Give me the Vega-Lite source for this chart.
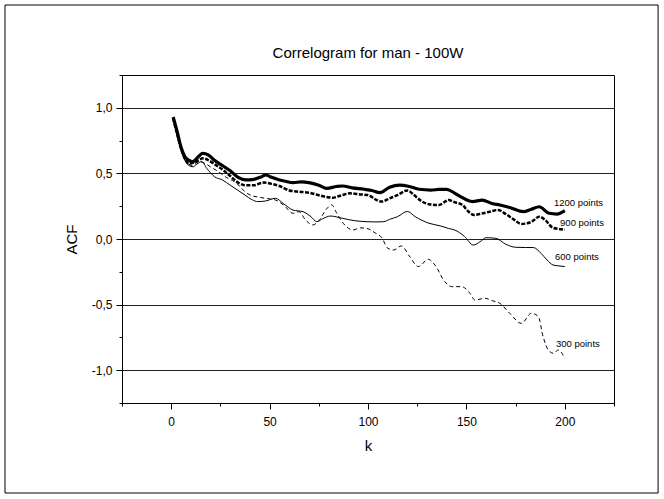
{
  "$schema": "https://vega.github.io/schema/vega-lite/v6.json",
  "width": 492,
  "height": 328,
  "autosize": "none",
  "padding": {"left": 122, "top": 75, "right": 50, "bottom": 96},
  "background": "white",
  "config": {"view": {"stroke": "#000", "strokeWidth": 1}, "font": "Liberation Sans"},
  "title": {"text": "Correlogram for man - 100W", "frame": "group", "fontSize": 15, "fontWeight": "normal", "font": "Liberation Sans", "color": "#000", "offset": -56, "anchor": "middle"},
  "datasets": {
    "acf": [
      {"s":"1200","k":1,"acf":0.93},{"s":"1200","k":3,"acf":0.82},{"s":"1200","k":5,"acf":0.70},{"s":"1200","k":7,"acf":0.627},{"s":"1200","k":9,"acf":0.60},{"s":"1200","k":11,"acf":0.59},{"s":"1200","k":14,"acf":0.63},{"s":"1200","k":16,"acf":0.653},{"s":"1200","k":19,"acf":0.64},{"s":"1200","k":22,"acf":0.60},{"s":"1200","k":26,"acf":0.56},{"s":"1200","k":30,"acf":0.52},{"s":"1200","k":34,"acf":0.47},{"s":"1200","k":38,"acf":0.45},{"s":"1200","k":42,"acf":0.455},{"s":"1200","k":46,"acf":0.475},{"s":"1200","k":48,"acf":0.488},{"s":"1200","k":51,"acf":0.47},{"s":"1200","k":55,"acf":0.45},{"s":"1200","k":58,"acf":0.44},{"s":"1200","k":62,"acf":0.43},{"s":"1200","k":66,"acf":0.435},{"s":"1200","k":70,"acf":0.43},{"s":"1200","k":75,"acf":0.41},{"s":"1200","k":79,"acf":0.386},{"s":"1200","k":84,"acf":0.40},{"s":"1200","k":87,"acf":0.404},{"s":"1200","k":92,"acf":0.39},{"s":"1200","k":98,"acf":0.379},{"s":"1200","k":102,"acf":0.37},{"s":"1200","k":106,"acf":0.353},{"s":"1200","k":111,"acf":0.394},{"s":"1200","k":116,"acf":0.41},{"s":"1200","k":121,"acf":0.40},{"s":"1200","k":126,"acf":0.379},{"s":"1200","k":132,"acf":0.373},{"s":"1200","k":136,"acf":0.378},{"s":"1200","k":140,"acf":0.379},{"s":"1200","k":144,"acf":0.35},{"s":"1200","k":147,"acf":0.323},{"s":"1200","k":153,"acf":0.285},{"s":"1200","k":158,"acf":0.297},{"s":"1200","k":163,"acf":0.27},{"s":"1200","k":167,"acf":0.259},{"s":"1200","k":172,"acf":0.24},{"s":"1200","k":179,"acf":0.208},{"s":"1200","k":183,"acf":0.227},{"s":"1200","k":187,"acf":0.246},{"s":"1200","k":192,"acf":0.196},{"s":"1200","k":196,"acf":0.19},{"s":"1200","k":200,"acf":0.216},

      {"s":"900","k":1,"acf":0.92},{"s":"900","k":3,"acf":0.80},{"s":"900","k":5,"acf":0.69},{"s":"900","k":7,"acf":0.61},{"s":"900","k":9,"acf":0.575},{"s":"900","k":11,"acf":0.58},{"s":"900","k":14,"acf":0.60},{"s":"900","k":16,"acf":0.615},{"s":"900","k":19,"acf":0.60},{"s":"900","k":22,"acf":0.57},{"s":"900","k":26,"acf":0.53},{"s":"900","k":30,"acf":0.48},{"s":"900","k":34,"acf":0.43},{"s":"900","k":38,"acf":0.41},{"s":"900","k":42,"acf":0.41},{"s":"900","k":47,"acf":0.43},{"s":"900","k":51,"acf":0.42},{"s":"900","k":55,"acf":0.404},{"s":"900","k":60,"acf":0.37},{"s":"900","k":65,"acf":0.36},{"s":"900","k":70,"acf":0.353},{"s":"900","k":76,"acf":0.33},{"s":"900","k":82,"acf":0.315},{"s":"900","k":86,"acf":0.33},{"s":"900","k":91,"acf":0.348},{"s":"900","k":96,"acf":0.34},{"s":"900","k":100,"acf":0.335},{"s":"900","k":104,"acf":0.30},{"s":"900","k":107,"acf":0.285},{"s":"900","k":111,"acf":0.31},{"s":"900","k":115,"acf":0.335},{"s":"900","k":120,"acf":0.37},{"s":"900","k":123,"acf":0.34},{"s":"900","k":127,"acf":0.29},{"s":"900","k":131,"acf":0.265},{"s":"900","k":136,"acf":0.259},{"s":"900","k":141,"acf":0.297},{"s":"900","k":144,"acf":0.28},{"s":"900","k":148,"acf":0.259},{"s":"900","k":151,"acf":0.21},{"s":"900","k":154,"acf":0.183},{"s":"900","k":158,"acf":0.195},{"s":"900","k":162,"acf":0.208},{"s":"900","k":166,"acf":0.221},{"s":"900","k":170,"acf":0.19},{"s":"900","k":174,"acf":0.15},{"s":"900","k":178,"acf":0.115},{"s":"900","k":183,"acf":0.13},{"s":"900","k":187,"acf":0.17},{"s":"900","k":190,"acf":0.145},{"s":"900","k":194,"acf":0.085},{"s":"900","k":198,"acf":0.075},{"s":"900","k":200,"acf":0.07},

      {"s":"600","k":1,"acf":0.92},{"s":"600","k":3,"acf":0.80},{"s":"600","k":5,"acf":0.68},{"s":"600","k":7,"acf":0.60},{"s":"600","k":9,"acf":0.56},{"s":"600","k":11,"acf":0.55},{"s":"600","k":13,"acf":0.57},{"s":"600","k":15.5,"acf":0.59},{"s":"600","k":18,"acf":0.54},{"s":"600","k":22,"acf":0.475},{"s":"600","k":26,"acf":0.45},{"s":"600","k":30,"acf":0.41},{"s":"600","k":34,"acf":0.37},{"s":"600","k":37.5,"acf":0.335},{"s":"600","k":41,"acf":0.30},{"s":"600","k":44,"acf":0.285},{"s":"600","k":48,"acf":0.29},{"s":"600","k":53,"acf":0.31},{"s":"600","k":57,"acf":0.27},{"s":"600","k":62,"acf":0.22},{"s":"600","k":67,"acf":0.208},{"s":"600","k":71,"acf":0.17},{"s":"600","k":74,"acf":0.132},{"s":"600","k":77,"acf":0.155},{"s":"600","k":81,"acf":0.175},{"s":"600","k":87,"acf":0.158},{"s":"600","k":93,"acf":0.14},{"s":"600","k":99,"acf":0.132},{"s":"600","k":104,"acf":0.13},{"s":"600","k":108,"acf":0.132},{"s":"600","k":111,"acf":0.15},{"s":"600","k":115,"acf":0.17},{"s":"600","k":120,"acf":0.21},{"s":"600","k":124,"acf":0.17},{"s":"600","k":131,"acf":0.12},{"s":"600","k":137,"acf":0.099},{"s":"600","k":141,"acf":0.08},{"s":"600","k":144,"acf":0.069},{"s":"600","k":149,"acf":0.02},{"s":"600","k":153.5,"acf":-0.046},{"s":"600","k":157,"acf":-0.02},{"s":"600","k":160,"acf":0.01},{"s":"600","k":165,"acf":0.005},{"s":"600","k":170,"acf":-0.04},{"s":"600","k":175,"acf":-0.063},{"s":"600","k":180,"acf":-0.065},{"s":"600","k":184,"acf":-0.065},{"s":"600","k":188,"acf":-0.11},{"s":"600","k":191,"acf":-0.16},{"s":"600","k":194,"acf":-0.198},{"s":"600","k":197,"acf":-0.205},{"s":"600","k":200,"acf":-0.21},

      {"s":"300","k":1,"acf":0.92},{"s":"300","k":3,"acf":0.80},{"s":"300","k":5,"acf":0.68},{"s":"300","k":7,"acf":0.60},{"s":"300","k":9,"acf":0.57},{"s":"300","k":11,"acf":0.56},{"s":"300","k":14,"acf":0.59},{"s":"300","k":17,"acf":0.577},{"s":"300","k":20,"acf":0.55},{"s":"300","k":24,"acf":0.513},{"s":"300","k":28,"acf":0.47},{"s":"300","k":32,"acf":0.437},{"s":"300","k":35,"acf":0.40},{"s":"300","k":37.5,"acf":0.36},{"s":"300","k":41,"acf":0.33},{"s":"300","k":44,"acf":0.32},{"s":"300","k":48,"acf":0.31},{"s":"300","k":53,"acf":0.297},{"s":"300","k":57,"acf":0.26},{"s":"300","k":62,"acf":0.196},{"s":"300","k":65,"acf":0.208},{"s":"300","k":68,"acf":0.15},{"s":"300","k":72,"acf":0.107},{"s":"300","k":75,"acf":0.14},{"s":"300","k":79,"acf":0.23},{"s":"300","k":81.6,"acf":0.26},{"s":"300","k":84,"acf":0.20},{"s":"300","k":87.4,"acf":0.12},{"s":"300","k":92.5,"acf":0.069},{"s":"300","k":96,"acf":0.085},{"s":"300","k":99,"acf":0.082},{"s":"300","k":104,"acf":0.043},{"s":"300","k":107,"acf":0.01},{"s":"300","k":110,"acf":-0.07},{"s":"300","k":113,"acf":-0.084},{"s":"300","k":117,"acf":-0.053},{"s":"300","k":121,"acf":-0.13},{"s":"300","k":125.6,"acf":-0.21},{"s":"300","k":130.6,"acf":-0.155},{"s":"300","k":134,"acf":-0.198},{"s":"300","k":139,"acf":-0.325},{"s":"300","k":142.5,"acf":-0.363},{"s":"300","k":147.6,"acf":-0.363},{"s":"300","k":151.8,"acf":-0.414},{"s":"300","k":154.3,"acf":-0.465},{"s":"300","k":159.5,"acf":-0.452},{"s":"300","k":163,"acf":-0.47},{"s":"300","k":167,"acf":-0.49},{"s":"300","k":172,"acf":-0.566},{"s":"300","k":178,"acf":-0.643},{"s":"300","k":183,"acf":-0.566},{"s":"300","k":186.5,"acf":-0.59},{"s":"300","k":189,"acf":-0.745},{"s":"300","k":191.6,"acf":-0.846},{"s":"300","k":194.2,"acf":-0.871},{"s":"300","k":196.7,"acf":-0.846},{"s":"300","k":200,"acf":-0.91}
    ],
    "labels": [
      {"k":194.5,"acf":0.274,"label":"1200 points"},
      {"k":197.6,"acf":0.122,"label":"900 points"},
      {"k":195,"acf":-0.137,"label":"600 points"},
      {"k":195.5,"acf":-0.80,"label":"300 points"}
    ]
  },
  "encoding": {
    "x": {
      "field": "k", "type": "quantitative",
      "scale": {"domain": [-25, 225], "nice": false, "zero": false},
      "axis": {
        "title": "k", "values": [-25, 0, 25, 50, 75, 100, 125, 150, 175, 200, 225],
        "grid": false,
        "labelExpr": "datum.value % 50 == 0 ? format(datum.value, 'd') : ''",
        "tickSize": {"condition": {"test": "datum.value % 50 == 0", "value": 6}, "value": 3},
        "tickColor": "#000", "domainColor": "#000", "labelColor": "#000",
        "labelFont": "Liberation Sans", "labelFontSize": 12, "labelPadding": 7,
        "titleFont": "Liberation Sans", "titleFontSize": 15, "titleFontWeight": "normal", "titleColor": "#000", "titlePadding": 11
      }
    },
    "y": {
      "field": "acf", "type": "quantitative",
      "scale": {"domain": [-1.25, 1.25], "nice": false, "zero": false},
      "axis": {
        "title": "ACF", "values": [-1.25, -1, -0.75, -0.5, -0.25, 0, 0.25, 0.5, 0.75, 1, 1.25],
        "grid": true, "gridColor": "#222", "gridWidth": 1,
        "gridOpacity": {"condition": {"test": "abs(datum.value) < 1.2 && abs(datum.value*2 - round(datum.value*2)) < 0.01", "value": 1}, "value": 0},
        "labelExpr": "abs(datum.value*2 - round(datum.value*2)) < 0.01 ? (datum.value < 0 ? '-' : '') + replace(format(abs(datum.value), '.1f'), '.', ',') : ''",
        "tickSize": {"condition": {"test": "abs(datum.value*2 - round(datum.value*2)) < 0.01", "value": 6}, "value": 3},
        "tickColor": "#000", "domainColor": "#000", "labelColor": "#000",
        "labelFont": "Liberation Sans", "labelFontSize": 12, "labelPadding": 4,
        "titleFont": "Liberation Sans", "titleFontSize": 15, "titleFontWeight": "normal", "titleColor": "#000", "titlePadding": 12
      }
    }
  },
  "layer": [
    {
      "data": {"values": [{"k": -84.45, "k2": 247.4, "acf": 1.7835, "acf2": -1.936}]},
      "mark": {"type": "rect", "fill": "transparent", "stroke": "#000", "strokeWidth": 1, "clip": false},
      "encoding": {
        "x2": {"field": "k2"},
        "y2": {"field": "acf2"}
      }
    },
    {
      "data": {"name": "acf"},
      "transform": [{"filter": "datum.s == '300'"}],
      "mark": {"type": "line", "color": "#000", "strokeWidth": 1, "strokeDash": [4, 3], "interpolate": "monotone"}
    },
    {
      "data": {"name": "acf"},
      "transform": [{"filter": "datum.s == '600'"}],
      "mark": {"type": "line", "color": "#000", "strokeWidth": 1, "interpolate": "monotone"}
    },
    {
      "data": {"name": "acf"},
      "transform": [{"filter": "datum.s == '900'"}],
      "mark": {"type": "line", "color": "#000", "strokeWidth": 2.5, "strokeDash": [4, 1.5], "interpolate": "monotone"}
    },
    {
      "data": {"name": "acf"},
      "transform": [{"filter": "datum.s == '1200'"}],
      "mark": {"type": "line", "color": "#000", "strokeWidth": 3.2, "interpolate": "monotone"}
    },
    {
      "data": {"name": "labels"},
      "mark": {"type": "text", "align": "left", "baseline": "middle", "font": "Liberation Sans", "fontSize": 9.5, "color": "#000"},
      "encoding": {"text": {"field": "label"}}
    }
  ]
}
